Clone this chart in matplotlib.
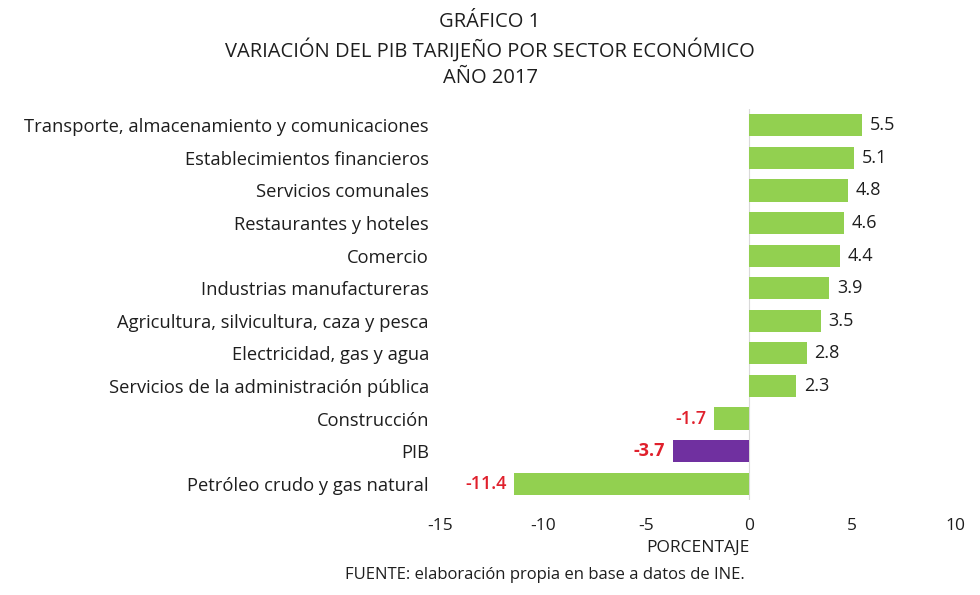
import matplotlib.pyplot as plt

plt.rcParams['font.family'] = ['Open Sans', 'DejaVu Sans']

sectores = [
    "Transporte, almacenamiento y comunicaciones",
    "Establecimientos financieros",
    "Servicios comunales",
    "Restaurantes y hoteles",
    "Comercio",
    "Industrias manufactureras",
    "Agricultura, silvicultura, caza y pesca",
    "Electricidad, gas y agua",
    "Servicios de la administración pública",
    "Construcción",
    "PIB",
    "Petróleo crudo y gas natural",
]
variacion = [5.5, 5.1, 4.8, 4.6, 4.4, 3.9, 3.5, 2.8, 2.3, -1.7, -3.7, -11.4]
ticks_x = [-15, -10, -5, 0, 5, 10]

verde = "#92D050"
morado = "#7030A0"
rojo = "#E0202C"
texto = "#1e1e1e"

fig = plt.figure(figsize=(9.8, 5.95), dpi=100)
ax = fig.add_axes([440 / 980, 1 - 500 / 595, 515 / 980, 391 / 595])

pos = list(range(len(sectores)))
colores = [morado if s == "PIB" else verde for s in sectores]
ax.barh(pos, variacion, height=0.68, color=colores)

for p, v, s in zip(pos, variacion, sectores):
    if v >= 0:
        ax.annotate(f"{v:.1f}", (v, p), xytext=(5.5, 0), textcoords="offset points",
                    ha="left", va="center", fontsize=13, color=texto)
    else:
        ax.annotate(f"{v:.1f}", (v, p), xytext=(-5.5, 0), textcoords="offset points",
                    ha="right", va="center", fontsize=13, color=rojo,
                    fontweight="bold" if s == "PIB" else "semibold")

ax.axvline(0, color="#d9d9d9", lw=0.8, zorder=0)
ax.set_xlim(-15, 10)
ax.set_ylim(len(sectores) - 0.5, -0.5)
ax.set_yticks(pos)
ax.set_yticklabels(sectores, fontsize=13.2, color=texto)
ax.set_xticks(ticks_x)
ax.set_xticklabels([str(t) for t in ticks_x], fontsize=12.5, color=texto)
ax.tick_params(axis="both", length=0)
ax.tick_params(axis="y", pad=8)
ax.tick_params(axis="x", pad=13)
for sp in ax.spines.values():
    sp.set_visible(False)

ax.set_xlabel("PORCENTAJE", fontsize=12.5, color=texto, labelpad=4)

fig.text(0.5, 1 - 22 / 595, "GRÁFICO 1", ha="center", va="center", fontsize=14.5, color=texto)
fig.text(0.5, 1 - 50 / 595, "VARIACIÓN DEL PIB TARIJEÑO POR SECTOR ECONÓMICO",
         ha="center", va="center", fontsize=14.5, color=texto)
fig.text(0.5, 1 - 78 / 595, "AÑO 2017", ha="center", va="center", fontsize=14.5, color=texto)
fig.text(545 / 980, 1 - 575 / 595, "FUENTE: elaboración propia en base a datos de INE.",
         ha="center", va="center", fontsize=12, color=texto)

fig.savefig("out.png", dpi=100)
